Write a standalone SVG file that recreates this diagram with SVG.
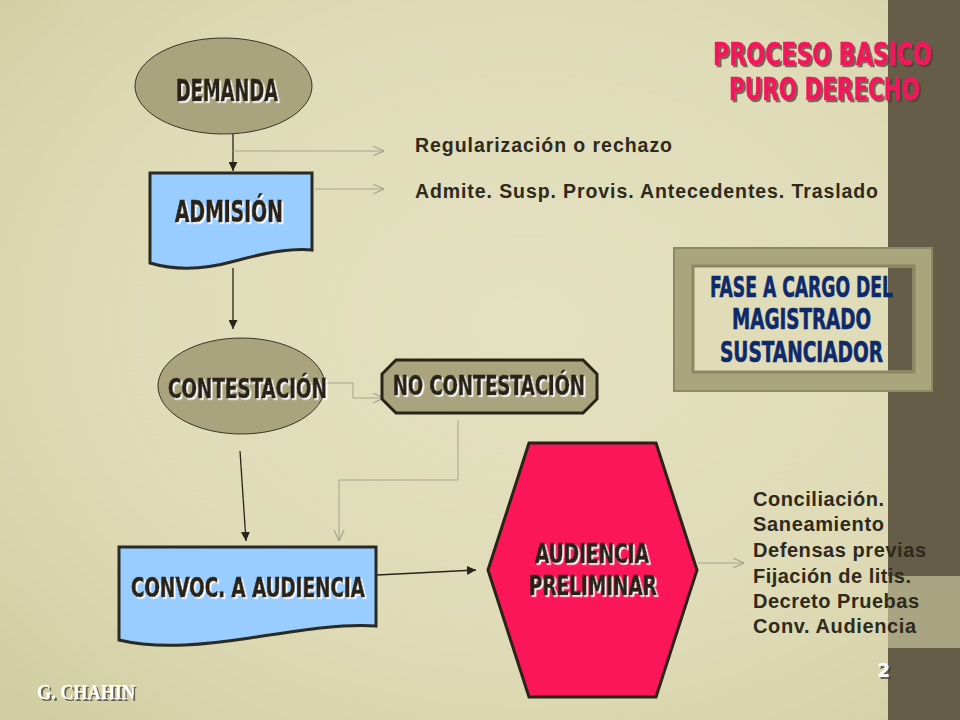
<svg xmlns="http://www.w3.org/2000/svg" width="960" height="720" viewBox="0 0 960 720">
<defs>
<radialGradient id="bg" cx="0.55" cy="0.45" r="0.75">
<stop offset="0" stop-color="#e4e1c1"/>
<stop offset="0.6" stop-color="#dfdbb7"/>
<stop offset="1" stop-color="#d2cea2"/>
</radialGradient>
<filter id="ws" x="-5%" y="-20%" width="110%" height="140%">
<feDropShadow dx="1.6" dy="1.6" stdDeviation="0" flood-color="#ffffff"/>
</filter>
<filter id="ds" x="-5%" y="-20%" width="110%" height="140%">
<feDropShadow dx="2" dy="2" stdDeviation="0.6" flood-color="#4a3c30" flood-opacity="0.75"/>
</filter>
<marker id="blk" viewBox="0 0 10 10" refX="10" refY="5" markerWidth="9" markerHeight="9" markerUnits="userSpaceOnUse" orient="auto">
<path d="M0,0 L10,5 L0,10 Z" fill="#2a2418"/>
</marker>
<marker id="opn" viewBox="0 0 10 10" refX="10" refY="5" markerWidth="12" markerHeight="12" markerUnits="userSpaceOnUse" orient="auto">
<path d="M1,1 L10,5 L1,9" fill="none" stroke="#a5a38c" stroke-width="1"/>
</marker>
</defs>
<style>
.lbl{font-family:"DejaVu Sans Condensed","DejaVu Sans",sans-serif;font-weight:bold;fill:#2a2418;stroke:#2a2418;stroke-width:0.7;filter:url(#ws)}
.fase{font-family:"DejaVu Sans Condensed","DejaVu Sans",sans-serif;font-weight:bold;fill:#0e2a6b;stroke:#0e2a6b;stroke-width:0.6;font-size:28px}
.ttl{font-family:"DejaVu Sans Condensed","DejaVu Sans",sans-serif;font-weight:bold;fill:#f2195c;stroke:#f2195c;stroke-width:0.5;font-size:32px;filter:url(#ds)}
.note{font-family:"Liberation Sans",Arial,sans-serif;font-weight:bold;fill:#2e2a1c;font-size:19.5px}
.list{font-family:"Liberation Sans",Arial,sans-serif;font-weight:bold;fill:#2e2a1c;font-size:20px}
.olive{fill:#a9a47e;stroke:#3a3424;stroke-width:1}
.doc{fill:#99ccff;stroke:#2a2a22;stroke-width:3}
.blk{fill:none;stroke:#2a2418;stroke-width:1.3;marker-end:url(#blk)}
.gry{fill:none;stroke:#a5a38c;stroke-width:1;marker-end:url(#opn)}
</style>
<rect x="0" y="0" width="960" height="720" fill="url(#bg)"/>
<rect x="888" y="0" width="72" height="720" fill="#655d47"/>
<rect x="888" y="576" width="72" height="72" fill="#a9a482"/>

<g id="title">
<text class="ttl" x="713" y="65" textLength="219" lengthAdjust="spacingAndGlyphs">PROCESO BASICO</text>
<text class="ttl" x="729" y="100" textLength="191" lengthAdjust="spacingAndGlyphs">PURO DERECHO</text>
</g>

<g id="connectors">
<line class="blk" x1="233" y1="134" x2="233" y2="171"/>
<line class="gry" x1="233" y1="151" x2="384" y2="151"/>
<line class="gry" x1="315" y1="189" x2="384" y2="189"/>
<line class="blk" x1="233" y1="268" x2="233" y2="329"/>
<polyline class="gry" points="327,383 353,383 353,398 384,398"/>
<polyline class="gry" points="458,420 458,480 339,480 339,541"/>
<line class="blk" x1="240" y1="451" x2="246" y2="541"/>
<line class="blk" x1="377" y1="575" x2="476" y2="570"/>
<line class="gry" x1="698" y1="563" x2="744" y2="563"/>
</g>

<g id="demanda">
<ellipse class="olive" cx="223.5" cy="86" rx="88.5" ry="48"/>
<text class="lbl" x="176" y="101" font-size="30" textLength="102" lengthAdjust="spacingAndGlyphs">DEMANDA</text>
</g>

<g id="admision">
<path class="doc" d="M150,173 H312 V250 C290,248 260,254 235,261 C210,268 180,272 150,263 Z"/>
<text class="lbl" x="175" y="222" font-size="30" textLength="108" lengthAdjust="spacingAndGlyphs">ADMISIÓN</text>
</g>

<g id="notes">
<text class="note" x="415" y="152" textLength="257" lengthAdjust="spacing">Regularización o rechazo</text>
<text class="note" x="415" y="198" textLength="463" lengthAdjust="spacing">Admite. Susp. Provis. Antecedentes. Traslado</text>
</g>

<g id="contestacion">
<ellipse class="olive" cx="241.5" cy="386" rx="83.5" ry="48"/>
<text class="lbl" x="168" y="398" font-size="27" textLength="159" lengthAdjust="spacingAndGlyphs">CONTESTACIÓN</text>
</g>

<g id="no-contestacion">
<polygon points="396,360 583,360 597,374 597,399 583,413 396,413 382,399 382,374" fill="#a9a47e" stroke="#2a2418" stroke-width="3"/>
<text class="lbl" x="393" y="395" font-size="27" textLength="192" lengthAdjust="spacingAndGlyphs">NO CONTESTACIÓN</text>
</g>

<g id="fase">
<rect x="674" y="248" width="258" height="143" fill="#a9a57d" stroke="#8c8862" stroke-width="2"/>
<rect x="693" y="266" width="221" height="106" fill="#e0dcb8" stroke="#8c8862" stroke-width="3"/>
<rect x="888" y="267.5" width="24.5" height="103" fill="#655d47"/>
<text class="fase" x="710" y="297" textLength="183" lengthAdjust="spacingAndGlyphs">FASE A CARGO DEL</text>
<text class="fase" x="732" y="329" textLength="139" lengthAdjust="spacingAndGlyphs">MAGISTRADO</text>
<text class="fase" x="720" y="362" textLength="163" lengthAdjust="spacingAndGlyphs">SUSTANCIADOR</text>
</g>

<g id="convoc">
<path class="doc" d="M119,547 H376 V626 C340,623 290,632 250,638 C210,644 160,650 119,640 Z"/>
<text class="lbl" x="131" y="597" font-size="27" textLength="234" lengthAdjust="spacingAndGlyphs">CONVOC. A AUDIENCIA</text>
</g>

<g id="audiencia">
<polygon points="488,570 529,443 656,443 697,570 656,697 529,697" fill="#fb1659" stroke="#2a2418" stroke-width="3"/>
<text class="lbl" x="535" y="563" font-size="27" textLength="114" lengthAdjust="spacingAndGlyphs">AUDIENCIA</text>
<text class="lbl" x="529" y="595" font-size="27" textLength="128" lengthAdjust="spacingAndGlyphs">PRELIMINAR</text>
</g>

<g id="list">
<text class="list" x="753" y="506" textLength="131" lengthAdjust="spacing">Conciliación.</text>
<text class="list" x="753" y="531" textLength="131" lengthAdjust="spacing">Saneamiento</text>
<text class="list" x="753" y="557" textLength="173" lengthAdjust="spacing">Defensas previas</text>
<text class="list" x="753" y="583" textLength="158" lengthAdjust="spacing">Fijación de litis.</text>
<text class="list" x="753" y="608" textLength="166" lengthAdjust="spacing">Decreto Pruebas</text>
<text class="list" x="753" y="633" textLength="163" lengthAdjust="spacing">Conv. Audiencia</text>
</g>

<g id="footer">
<text x="37" y="699" font-family="Liberation Serif,serif" font-weight="bold" font-size="20" fill="#ffffff" filter="url(#ds)" textLength="98" lengthAdjust="spacingAndGlyphs">G. CHAHIN</text>
<text x="877" y="677" font-family="DejaVu Sans,sans-serif" font-weight="bold" font-size="19" fill="#ffffff" filter="url(#ds)">2</text>
</g>
</svg>
